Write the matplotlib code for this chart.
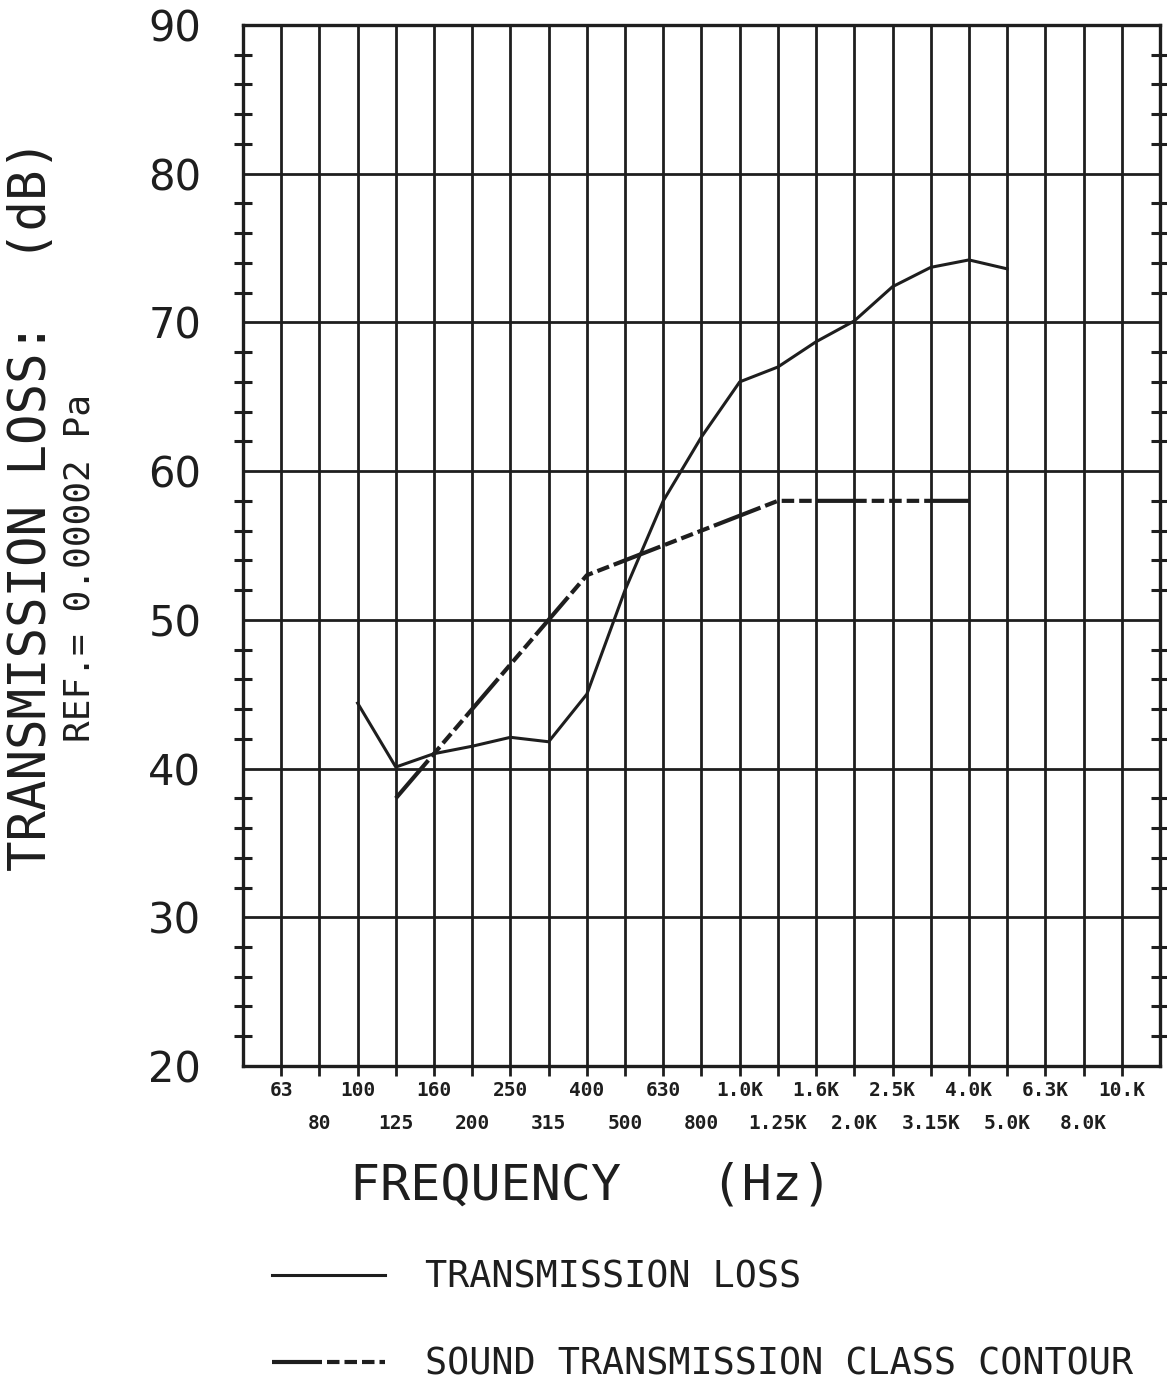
import matplotlib.pyplot as plt
from matplotlib.ticker import MultipleLocator, FixedLocator

# one-third octave bands, 50 Hz .. 10 kHz
bands = ['50', '63', '80', '100', '125', '160', '200', '250', '315', '400', '500', '630',
         '800', '1.0K', '1.25K', '1.6K', '2.0K', '2.5K', '3.15K', '4.0K', '5.0K', '6.3K',
         '8.0K', '10.K']
top_labels = ['63', '100', '160', '250', '400', '630', '1.0K', '1.6K', '2.5K', '4.0K', '6.3K', '10.K']
bottom_labels = ['80', '125', '200', '315', '500', '800', '1.25K', '2.0K', '3.15K', '5.0K', '8.0K']

# measured transmission loss, 100 Hz .. 5 kHz
tl_bands = ['100', '125', '160', '200', '250', '315', '400', '500', '630', '800', '1.0K',
            '1.25K', '1.6K', '2.0K', '2.5K', '3.15K', '4.0K', '5.0K']
tl_values = [44.4, 40.1, 41.0, 41.5, 42.1, 41.8, 45.0, 52.0, 58.0, 62.3, 66.0,
             67.0, 68.7, 70.1, 72.4, 73.7, 74.2, 73.6]

# STC contour (STC 54), 125 Hz .. 4 kHz
stc_bands = ['125', '160', '200', '250', '315', '400', '500', '630', '800', '1.0K',
             '1.25K', '1.6K', '2.0K', '2.5K', '3.15K', '4.0K']
stc_values = [38, 41, 44, 47, 50, 53, 54, 55, 56, 57, 58, 58, 58, 58, 58, 58]

plt.rcParams['font.family'] = 'DejaVu Sans'

fig = plt.figure(figsize=(11.67, 13.86), dpi=100)
ax = fig.add_axes([0.2082, 0.2309, 0.994 - 0.2082, 0.982 - 0.2309])

pos = {b: i for i, b in enumerate(bands)}
ink = '#1e1e1e'
stc_dash = (12, 1.2, 3, 1.2, 3, 1.2, 3, 1.2)

ax.plot([pos[b] for b in tl_bands], tl_values, color=ink, lw=2.2)
ax.plot([pos[b] for b in stc_bands], stc_values, color=ink, lw=3.0, dashes=stc_dash)

ax.set_xlim(0, len(bands))
ax.set_ylim(20, 90)

# grid
ax.xaxis.set_major_locator(FixedLocator(range(1, len(bands))))
ax.yaxis.set_major_locator(MultipleLocator(10))
ax.yaxis.set_minor_locator(MultipleLocator(2))
ax.grid(True, which='major', color=ink, lw=2.0)
for s in ax.spines.values():
    s.set_linewidth(2.4)
    s.set_color(ink)

ax.tick_params(axis='x', which='major', direction='out', length=7, width=2, labelbottom=False, colors=ink)
ax.tick_params(axis='y', which='both', direction='inout', width=2.2, colors=ink,
               right=True, left=True)
ax.tick_params(axis='y', which='major', length=0, labelsize=30, pad=30)
ax.tick_params(axis='y', which='minor', length=13)

# staggered frequency labels
for lab in top_labels:
    ax.text(pos[lab], 19.0, lab, ha='center', va='top', fontsize=14, fontweight='bold',
            family='DejaVu Sans Mono', color=ink)
for lab in bottom_labels:
    ax.text(pos[lab], 16.8, lab, ha='center', va='top', fontsize=14, fontweight='bold',
            family='DejaVu Sans Mono', color=ink)

fig.text(0.506, 1 - 1186 / 1386, 'FREQUENCY   (Hz)', ha='center', va='center', fontsize=36,
         color=ink, family='DejaVu Sans Mono')

fig.text(0.027, 1 - 505 / 1386, 'TRANSMISSION LOSS:  (dB)', rotation=90, ha='center',
         va='center', fontsize=36.5, color=ink, family='DejaVu Sans Mono')
fig.text(0.068, 1 - 568 / 1386, 'REF.= 0.00002 Pa', rotation=90, ha='center', va='center',
         fontsize=26, color=ink, family='DejaVu Sans Mono')

# legend drawn as plain lines + text
fig.add_artist(plt.Line2D([0.233, 0.33], [1 - 1275 / 1386] * 2, color=ink, lw=2.2))
fig.add_artist(plt.Line2D([0.233, 0.33], [1 - 1362 / 1386] * 2, color=ink, lw=3.0,
                          dashes=stc_dash))
fig.text(0.364, 1 - 1277 / 1386, 'TRANSMISSION LOSS', ha='left', va='center', fontsize=26.5,
         family='DejaVu Sans Mono', color=ink)
fig.text(0.364, 1 - 1364 / 1386, 'SOUND TRANSMISSION CLASS CONTOUR', ha='left', va='center',
         fontsize=26.5, family='DejaVu Sans Mono', color=ink)

fig.savefig('out.png', dpi=100)
